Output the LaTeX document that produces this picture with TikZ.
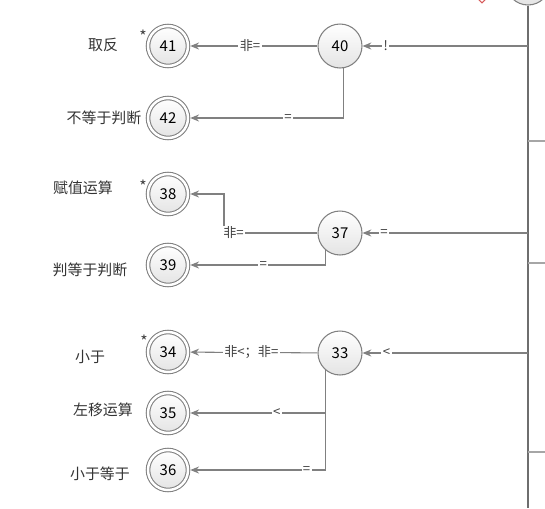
\documentclass[tikz,border=0pt]{standalone}
\usepackage{fontspec}
\setmainfont{Noto Sans CJK SC}
\usepackage{tikz}
\usetikzlibrary{shapes.geometric,arrows.meta,positioning}
\definecolor{st_edge}{RGB}{128, 128, 128}
\definecolor{st_bus}{RGB}{110, 110, 110}
\definecolor{st_fill}{RGB}{228, 228, 228}
\definecolor{st_red}{RGB}{214, 90, 90}

\begin{document}
\begin{tikzpicture}[
  x=0.02cm,y=-0.02cm,
  state/.style={circle,draw=st_edge,line width=0.6pt,minimum size=0.88cm,inner sep=0pt,
                top color=white,bottom color=st_fill,font=\fontsize{8.5}{9}\selectfont},
  final/.style={state,minimum size=0.8cm,double=white,double distance=1.4pt,outer sep=1.3pt},
  edge/.style={-{Stealth[length=5pt,width=4pt]},draw=st_edge,line width=0.6pt},
  bus/.style={draw=st_bus,line width=1.3pt},
  stub/.style={draw=st_edge!70,line width=0.8pt},
  lbl/.style={fill=white,inner sep=0.8pt,font=\fontsize{7.5}{8}\selectfont,text=black!75},
  tname/.style={font=\fontsize{8.5}{10}\selectfont,text=black!80},
  star/.style={inner sep=0pt,font=\fontsize{9}{9}\selectfont,text=black!75}
]
\useasboundingbox (0,0) rectangle (545,508);
% bus on the right
\node[state] (n0) at (528,-17) {};
\node[diamond,draw=st_red,line width=0.6pt,minimum size=8pt,inner sep=0pt] (mark) at (482,-4) {};
\coordinate (busend) at (528,508);
\draw[bus] (n0.south) -- (busend);
\foreach \y in {141,263,452} {
  \coordinate (bus\y) at (528,\y);
  \coordinate (out\y) at (545,\y);
  \draw[stub] (bus\y) -- (out\y);
}
\coordinate (b40) at (528,46);
\coordinate (b37) at (528,233);
\coordinate (b33) at (528,353);
% states
\node[state] (n40) at (340,46) {40};
\node[state] (n37) at (340,233) {37};
\node[state] (n33) at (340,353) {33};
\node[final] (n41) at (168,46) {41};
\node[final] (n42) at (168,118) {42};
\node[final] (n38) at (168,194) {38};
\node[final] (n39) at (168,265) {39};
\node[final] (n34) at (168,352) {34};
\node[final] (n35) at (168,413) {35};
\node[final] (n36) at (168,470) {36};
\node[star] (s41) at (143,36) {*};
\node[star] (s38) at (143,186) {*};
\node[star] (s34) at (144,341) {*};
% names
\node[tname] (t41) at (103,45) {取反};
\node[tname] (t42) at (104,118) {不等于判断};
\node[tname] (t38) at (83,188) {赋值运算};
\node[tname] (t39) at (90,270) {判等于判断};
\node[tname] (t34) at (90,357) {小于};
\node[tname] (t35) at (103,410) {左移运算};
\node[tname] (t36) at (100,474) {小于等于};
% transitions
\draw[edge] (b40) -- node[lbl,pos=0.86] {!} (n40);
\draw[edge] (b37) -- node[lbl,pos=0.87] {=} (n37);
\draw[edge] (b33) -- node[lbl,pos=0.855] {<} (n33);
\draw[edge] (n40) -- node[lbl,pos=0.53] {非=} (n41);
\draw[edge] (n40.-82) |- node[lbl,pos=0.68] {=} (n42);
\coordinate (c38) at (224,194);
\draw[edge] (n37.west) -| node[lbl,pos=0.5,anchor=west,xshift=-1.5pt] {非=} (c38) -- (n38);
\draw[edge] (n37.230) |- node[lbl,pos=0.73] {=} (n39);
\draw[edge] (n33) -- node[lbl,pos=0.52] {非<；非=} (n34);
\draw[edge] (n33.230) |- node[lbl,pos=0.68] {<} (n35);
\draw[edge] (n33.230) |- node[lbl,pos=0.57] {=} (n36);
\end{tikzpicture}
\end{document}
